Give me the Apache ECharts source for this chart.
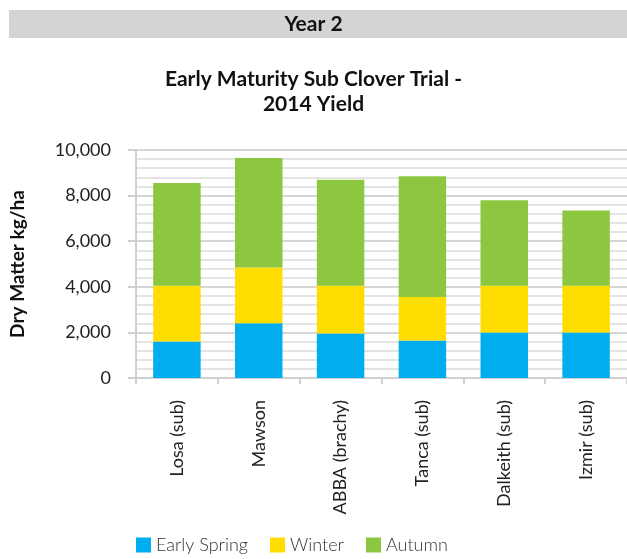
<!DOCTYPE html>
<html>
<head>
<meta charset="utf-8">
<script src="https://cdn.jsdelivr.net/npm/echarts@6/dist/echarts.min.js"></script>
<style>
    html, body { margin: 0; padding: 0; background: #fff; }
    #chart { width: 627px; height: 559px; }
</style>
</head>
<body>
<div id="chart"></div>
<script>
    // 品种
    var categories = ['Losa (sub)', 'Mawson', 'ABBA (brachy)', 'Tanca (sub)', 'Dalkeith (sub)', 'Izmir (sub)'];
    // 各季节的干物质产量 (kg/ha)
    var earlySpring = [1600, 2400, 1950, 1650, 2000, 2000];
    var winter = [2450, 2450, 2100, 1900, 2050, 2050];
    var autumn = [4500, 4800, 4650, 5300, 3750, 3300];

    var font = 'Lato, "Open Sans", sans-serif';
    var myChart = echarts.init(document.getElementById('chart'));

    var option = {
        animation: false,
        textStyle: { fontFamily: font, color: '#222' },
        graphic: [{
            type: 'rect',
            left: 9, top: 10,
            shape: { width: 618, height: 28 },
            style: { fill: '#d4d4d6' }
        }, {
            type: 'text',
            left: 'center', top: 14,
            style: { text: 'Year 2', fontFamily: font, fontWeight: 'bold', fontSize: 21, fill: '#111' }
        }],
        title: {
            text: 'Early Maturity Sub Clover Trial -\n2014 Yield',
            left: 'center',
            top: 62,
            textStyle: { fontFamily: font, fontWeight: 'bold', fontSize: 21, color: '#111', lineHeight: 25 }
        },
        legend: {
            bottom: 0,
            left: 131,
            itemWidth: 15,
            itemHeight: 15,
            itemGap: 22,
            icon: 'rect',
            textStyle: { fontFamily: font, fontWeight: 300, fontSize: 18, color: '#333' },
            data: ['Early Spring', 'Winter', 'Autumn']
        },
        grid: { left: 136, right: 0, top: 150, bottom: 181 },
        xAxis: {
            type: 'category',
            data: categories,
            axisLine: { lineStyle: { color: '#d0d0d0', width: 2 } },
            axisTick: { show: true, length: 6, lineStyle: { color: '#d0d0d0', width: 2 } },
            axisLabel: { rotate: 90, fontSize: 18, color: '#222', margin: 22, fontFamily: font }
        },
        yAxis: {
            type: 'value',
            min: 0,
            max: 10000,
            interval: 2000,
            name: 'Dry Matter kg/ha',
            nameLocation: 'middle',
            nameGap: 109,
            nameTextStyle: { fontFamily: font, fontWeight: 'bold', fontSize: 19, color: '#111' },
            axisLine: { show: true, lineStyle: { color: '#d0d0d0', width: 2 } },
            axisTick: { show: true, length: 8, lineStyle: { color: '#d0d0d0', width: 2 } },
            axisLabel: {
                fontSize: 18, color: '#222', margin: 25, fontFamily: font,
                formatter: function (v) { return v.toLocaleString('en-US'); }
            },
            splitLine: { lineStyle: { color: '#d6d6d6', width: 2 } },
            minorTick: { show: false, splitNumber: 5 },
            minorSplitLine: { show: true, lineStyle: { color: '#e4e4e4', width: 2 } }
        },
        series: [{
            name: 'Early Spring',
            type: 'bar',
            stack: 'total',
            barWidth: '58%',
            data: earlySpring,
            itemStyle: { color: '#00adef' }
        }, {
            name: 'Winter',
            type: 'bar',
            stack: 'total',
            data: winter,
            itemStyle: { color: '#ffdd00' }
        }, {
            name: 'Autumn',
            type: 'bar',
            stack: 'total',
            data: autumn,
            itemStyle: { color: '#8dc63f' }
        }]
    };

    myChart.setOption(option);
</script>
</body>
</html>
